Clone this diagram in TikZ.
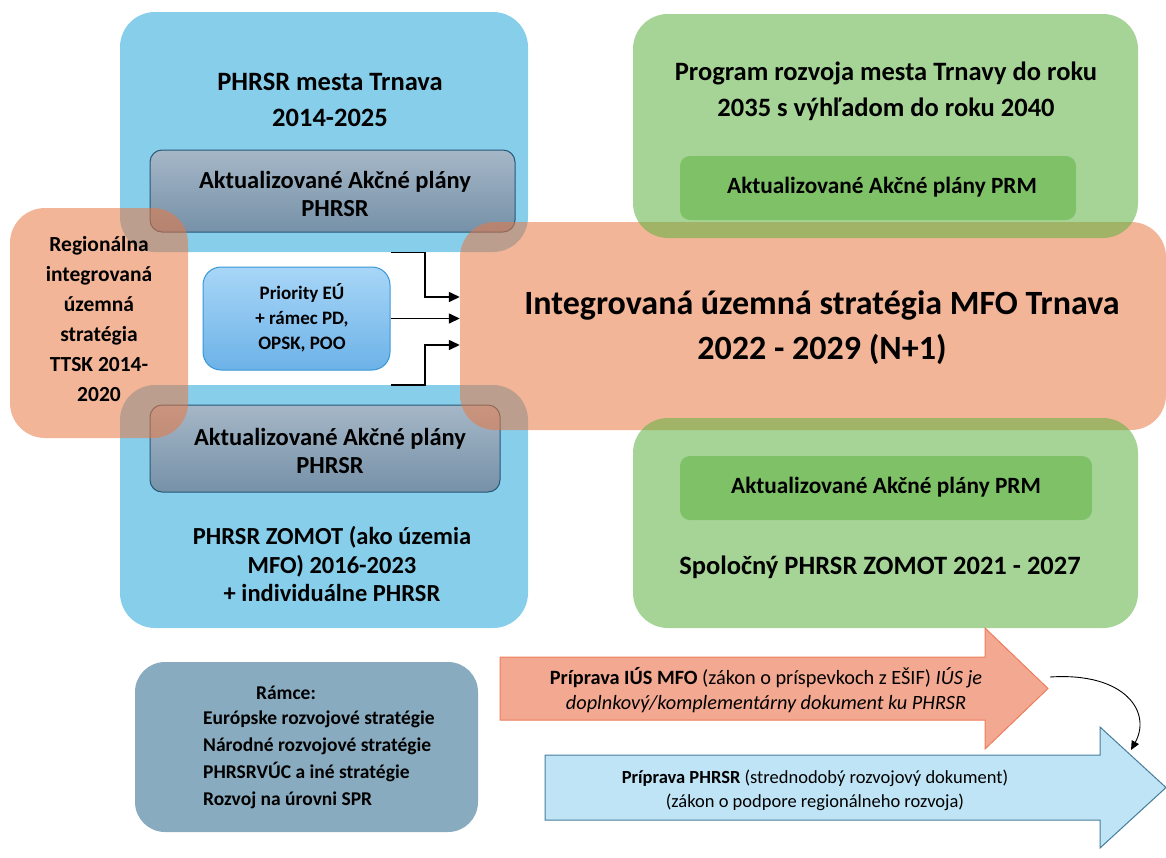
\documentclass[tikz,border=0pt]{standalone}
\usepackage{fontspec}
\setmainfont{Carlito}
\usetikzlibrary{arrows.meta, calc, positioning}

\definecolor{skyfill}{RGB}{135,206,235}
\definecolor{slatetop}{RGB}{165,183,199}
\definecolor{slatebot}{RGB}{118,145,168}
\definecolor{slateline}{RGB}{38,88,120}
\definecolor{salmon}{RGB}{233,120,66}
\definecolor{leaf}{RGB}{93,177,64}
\definecolor{priotop}{RGB}{168,214,247}
\definecolor{priobot}{RGB}{108,178,232}
\definecolor{prioline}{RGB}{55,150,215}
\definecolor{framefill}{RGB}{137,171,191}
\definecolor{iusfill}{RGB}{243,168,145}
\definecolor{iusline}{RGB}{237,125,90}
\definecolor{phrfill}{RGB}{191,228,245}
\definecolor{phrline}{RGB}{70,125,155}

\newcommand\fsTitle{\fontsize{26.5}{36}\selectfont\bfseries}
\newcommand\fsPlan{\fontsize{24.5}{28.5}\selectfont\bfseries}
\newcommand\fsPrm{\fontsize{23.3}{28}\selectfont\bfseries}
\newcommand\fsBig{\fontsize{34}{45}\selectfont\bfseries}
\newcommand\fsSide{\fontsize{21.5}{30}\selectfont\bfseries}
\newcommand\fsPrio{\fontsize{19}{25}\selectfont\bfseries}
\newcommand\fsFrame{\fontsize{19.5}{27}\selectfont\bfseries}
\newcommand\fsArrow{\fontsize{18.5}{24}\selectfont}
\newcommand\fsIus{\fontsize{20.3}{25}\selectfont}

\begin{document}
\begin{tikzpicture}[x=1pt,y=-1pt,
  box/.style={rounded corners=35pt,inner sep=0pt},
  skybox/.style={box,fill=skyfill},
  planbox/.style={rounded corners=12pt,inner sep=0pt,draw=slateline,line width=1pt,top color=slatetop,bottom color=slatebot},
  iusbox/.style={box,fill=salmon,fill opacity=0.55},
  leafbox/.style={box,fill=leaf,fill opacity=0.55},
  prmbox/.style={rounded corners=10pt,inner sep=0pt,fill=leaf,fill opacity=0.55},
  txt/.style={align=center,inner sep=0pt},
  link/.style={line width=1.4pt,-{Triangle[length=11pt,width=10pt]}}]
  \useasboundingbox (0,0) rectangle (1166,857);

  % PHRSR mesta Trnava / ZOMOT
  \node[skybox,minimum width=408pt,minimum height=240pt] (phrsrtop) at (324,132) {};
  \node[skybox,minimum width=408pt,minimum height=243pt] (phrsrbot) at (324,506.5) {};
  \node[planbox,minimum width=365pt,minimum height=82pt] (plantop) at (332.5,191) {};
  \node[planbox,minimum width=350pt,minimum height=87pt] (planbot) at (325,448.5) {};
  \node[rounded corners=18pt,draw=prioline,line width=1pt,top color=priotop,bottom color=priobot,
    minimum width=187pt,minimum height=103pt] (prio) at (296.5,318.5) {};
  \node[txt,font=\fsTitle] (phrsrtitle) at (330,100) {PHRSR mesta Trnava\\2014-2025};
  \node[txt,font=\fsPlan] (plantoptext) at (335,194) {Aktualizované Akčné plány\\PHRSR};
  \node[txt,font=\fsPlan] (planbottext) at (330,451) {Aktualizované Akčné plány\\PHRSR};
  \node[txt,font=\fsPlan] (zomottext) at (332,564) {PHRSR ZOMOT (ako územia\\MFO) 2016-2023\\+ individuálne PHRSR};
  \node[txt,font=\fsPrio] (priotext) at (302,318) {Priority EÚ\\+ rámec PD,\\OPSK, POO};

  % IUS boxes
  \node[iusbox,minimum width=178pt,minimum height=230pt] (ttsk) at (99,323) {};
  \node[iusbox,minimum width=706pt,minimum height=208pt] (iusbig) at (813,326) {};
  \node[txt,font=\fsSide] (ttsktext) at (99,319) {Regionálna\\integrovaná\\územná\\stratégia\\TTSK 2014-\\2020};
  \node[txt,font=\fsBig] (iustext) at (822,328) {Integrovaná územná stratégia MFO Trnava\\2022 - 2029 (N+1)};

  \coordinate (ktop) at (425,297);
  \coordinate (kbot) at (425,345);
  \draw[link] (phrsrtop.south -| prio.east) -| (ktop) -- (ktop -| iusbig.west);
  \draw[link] (prio.east) -- (prio.east -| iusbig.west);
  \draw[link] (phrsrbot.north -| prio.east) -| (kbot) -- (kbot -| iusbig.west);

  % PRM boxes
  \node[leafbox,minimum width=505pt,minimum height=224pt] (prmtop) at (885.5,126) {};
  \node[prmbox,minimum width=396pt,minimum height=64pt] (prmplantop) at (878,188) {};
  \node[leafbox,minimum width=505pt,minimum height=210pt] (prmbot) at (885.5,523) {};
  \node[prmbox,minimum width=412pt,minimum height=64pt] (prmplanbot) at (886,488) {};
  \node[txt,font=\fsTitle] (prmtitle) at (886,91) {Program rozvoja mesta Trnavy do roku\\2035 s výhľadom do roku 2040};
  \node[txt,font=\fsPrm] (prmtoptext) at (882,187) {Aktualizované Akčné plány PRM};
  \node[txt,font=\fsPrm] (prmbottext) at (886,487) {Aktualizované Akčné plány PRM};
  \node[txt,font=\fsTitle] (zomotprm) at (880,567) {Spoločný PHRSR ZOMOT 2021 - 2027};

  % Ramce
  \node[rounded corners=30pt,fill=framefill,minimum width=343pt,minimum height=170pt] (ramce) at (306.5,747) {};
  \node[txt,font=\fsFrame] (ramcehead) at (286,693) {Rámce:};
  \node[txt,font=\fsFrame,align=left,anchor=north west] (ramcelist) at (203,711)
    {Európske rozvojové stratégie\\Národné rozvojové stratégie\\PHRSRVÚC a iné stratégie\\Rozvoj na úrovni SPR};

  % priprava arrows
  \draw[fill=iusfill,draw=iusline,line width=1pt] (500,657) -- (985,657) -- (985,628) -- (1048,688.5)
    -- (985,749) -- (985,720) -- (500,720) -- cycle;
  \draw[fill=phrfill,draw=phrline,line width=1pt] (545,755) -- (1100,755) -- (1100,727) -- (1166,787.5)
    -- (1100,848) -- (1100,820) -- (545,820) -- cycle;
  \node[txt,font=\fsIus] (iusprep) at (766,690)
    {\textbf{Príprava IÚS MFO} (zákon o príspevkoch z EŠIF) \textit{IÚS je}\\\textit{doplnkový/komplementárny dokument ku PHRSR}};
  \node[txt,font=\fsArrow] (phrsrprep) at (815,790)
    {\textbf{Príprava PHRSR} (strednodobý rozvojový dokument)\\(zákon o podpore regionálneho rozvoja)};

  \coordinate (bendstart) at (1050,677);
  \coordinate (bendend) at (1131,750);
  \draw[line width=0.9pt,-{Triangle[length=9pt,width=8pt]}] (bendstart) .. controls (1125,672) and (1152,712) .. (bendend);
\end{tikzpicture}
\end{document}
